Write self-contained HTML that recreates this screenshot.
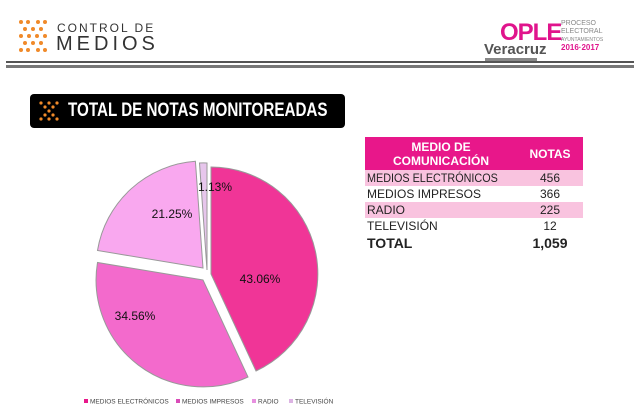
<!DOCTYPE html>
<html><head><style>
body{margin:0;width:640px;height:410px;background:#fff;font-family:"Liberation Sans",sans-serif;position:relative;overflow:hidden}
.a{position:absolute}
table{border-collapse:collapse;table-layout:fixed}
td{white-space:nowrap;padding:0 0 0 2px}
</style></head><body>
<svg class="a" style="left:18px;top:18px" width="30" height="38">
<g fill="#f08a2a">
<circle cx="3" cy="4" r="2"/><circle cx="10" cy="4" r="2"/><circle cx="20" cy="4" r="2"/><circle cx="27" cy="4" r="2"/>
<circle cx="7" cy="11" r="2"/><circle cx="23" cy="11" r="2"/><circle cx="15" cy="11" r="2"/>
<circle cx="11" cy="18" r="2"/><circle cx="19" cy="18" r="2"/><circle cx="3" cy="18" r="2"/><circle cx="27" cy="18" r="2"/>
<circle cx="7" cy="25" r="2"/><circle cx="23" cy="25" r="2"/><circle cx="15" cy="25" r="2"/>
<circle cx="3" cy="32" r="2"/><circle cx="10" cy="32" r="2"/><circle cx="20" cy="32" r="2"/><circle cx="27" cy="32" r="2"/>
</g></svg>
<div class="a" style="left:57px;top:21px;font-size:12px;letter-spacing:2px;color:#333">CONTROL DE</div>
<div class="a" style="left:56px;top:33px;font-size:20px;letter-spacing:4px;color:#333">MEDIOS</div>
<div class="a" style="left:500px;top:19px;font-size:24px;font-weight:bold;color:#e0148c;letter-spacing:-1px">OPLE</div>
<div class="a" style="left:484px;top:41px;font-size:15px;font-weight:bold;color:#555">Veracruz</div>
<div class="a" style="left:485px;top:58px;width:52px;height:3px;background:#888"></div>
<div class="a" style="left:561px;top:20px;font-size:7px;color:#888;line-height:8px">PROCESO<br>ELECTORAL<br><span style="font-size:5px">AYUNTAMIENTOS</span><br><b style="color:#e0148c;font-size:8px">2016·2017</b></div>
<div class="a" style="left:6px;top:61px;width:628px;height:2px;background:#555"></div>
<div class="a" style="left:6px;top:65px;width:628px;height:3px;background:#777"></div>
<div class="a" style="left:30px;top:94px;width:315px;height:34px;background:#000;border-radius:4px"></div>
<svg class="a" style="left:38px;top:100px" width="22" height="22"><g fill="#f08a2a"><circle cx="3" cy="3" r="1.6"/><circle cx="19" cy="3" r="1.6"/><circle cx="7" cy="7" r="1.6"/><circle cx="15" cy="7" r="1.6"/><circle cx="11" cy="11" r="1.6"/><circle cx="7" cy="15" r="1.6"/><circle cx="15" cy="15" r="1.6"/><circle cx="3" cy="19" r="1.6"/><circle cx="19" cy="19" r="1.6"/><circle cx="11" cy="3" r="1.6"/><circle cx="11" cy="19" r="1.6"/></g></svg>
<div class="a" style="left:68px;top:100px;font-size:19px;font-weight:bold;color:#fff;transform:scaleX(0.8);transform-origin:left;white-space:nowrap">TOTAL DE NOTAS MONITOREADAS</div>
<table class="a" style="left:365px;top:137px;width:218px;font-size:12px;color:#222">
<colgroup><col style="width:150px"><col style="width:68px"></colgroup>
<tr style="background:#e8178a;color:#fff;font-weight:bold;height:33px;font-size:12px"><td style="text-align:center;line-height:14px">MEDIO DE<br>COMUNICACIÓN</td><td style="text-align:center">NOTAS</td></tr>
<tr style="background:#f9c3df;height:16px"><td><span style="display:inline-block;transform:scaleX(0.9);transform-origin:left">MEDIOS ELECTRÓNICOS</span></td><td style="text-align:center">456</td></tr>
<tr style="height:16px"><td>MEDIOS IMPRESOS</td><td style="text-align:center">366</td></tr>
<tr style="background:#f9c3df;height:16px"><td>RADIO</td><td style="text-align:center">225</td></tr>
<tr style="height:16px"><td>TELEVISIÓN</td><td style="text-align:center">12</td></tr>
<tr style="height:18px;font-weight:bold;font-size:14px"><td>TOTAL</td><td style="text-align:center">1,059</td></tr>
</table>
<svg class="a" style="left:0;top:0" width="640" height="410">
<g stroke="#999" stroke-width="1">
<path d="M211,274 L211,167 A107,107 0 0 1 256,371 Z" fill="#f03597"/>
<path d="M203,280 L248,377 A107,107 0 0 1 97.5,262.5 Z" fill="#f36acc"/>
<path d="M203,268 L97.5,250.5 A107,107 0 0 1 195.4,161.3 Z" fill="#f9a8ef"/>
<path d="M207,270 L199.5,163 A107,107 0 0 1 207,163 Z" fill="#e7c6ec"/>
</g>
<g font-size="12" fill="#111" text-anchor="middle">
<text x="260" y="283">43.06%</text>
<text x="135" y="320">34.56%</text>
<text x="172" y="218">21.25%</text>
<text x="215" y="191">1.13%</text>
</g>
<g font-size="6.5" fill="#444">
<rect x="84" y="399" width="4" height="4" fill="#e8178a"/><text x="90" y="403.5">MEDIOS ELECTRÓNICOS</text>
<rect x="176" y="399" width="4" height="4" fill="#d94cb8"/><text x="182" y="403.5">MEDIOS IMPRESOS</text>
<rect x="252" y="399" width="4" height="4" fill="#e78fdf"/><text x="258" y="403.5">RADIO</text>
<rect x="289" y="399" width="4" height="4" fill="#dcb3e3"/><text x="295" y="403.5">TELEVISIÓN</text>
</g>
</svg>
</body></html>
